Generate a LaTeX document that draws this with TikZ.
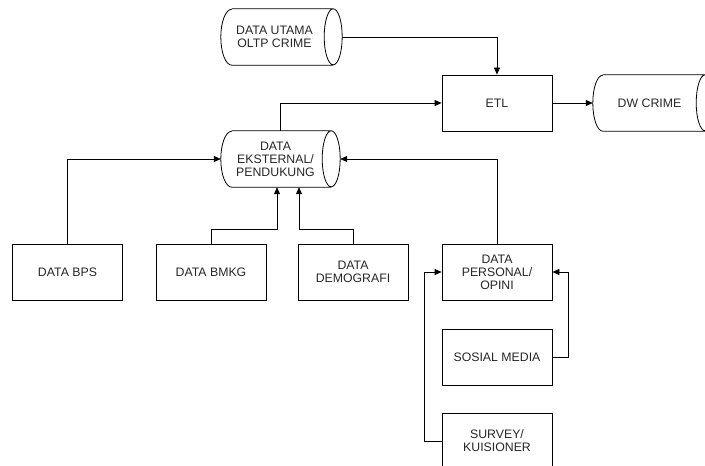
\documentclass[tikz,border=0pt]{standalone}
\usepackage{fontspec}
\setmainfont{Liberation Sans}
\usetikzlibrary{arrows.meta,calc}
\newcommand\drawcyl[2]{%
 \draw[shapeline] ($(#1.north west)+(#2,0)$) -- ($(#1.north east)+(-9,0)$)
   arc[start angle=90,end angle=-270,x radius=9,y radius=28]
   ($(#1.south east)+(-9,0)$) -- ($(#1.south west)+(#2,0)$)
   arc[start angle=270,end angle=90,x radius=#2,y radius=28];}
\tikzset{
 txt/.style={font=\fontsize{12.3}{13}\selectfont, align=center, text=black!85},
 box/.style={draw, line width=0.8pt, minimum width=110pt, minimum height=56pt, inner sep=0pt, txt},
 cyl/.style={minimum height=56pt, inner sep=0pt},
 lbl/.style={txt},
 shapeline/.style={line width=0.8pt},
 conn/.style={line width=0.8pt, -{Triangle[length=7pt,width=6pt]}}
}
\begin{document}
\begin{tikzpicture}[x=1pt,y=1pt]
\useasboundingbox (0,0) rectangle (705,466);
\clip (0,0) rectangle (705,466);
\node[cyl, minimum width=121pt, label={[lbl,xshift=-7pt]center:DATA UTAMA\\OLTP CRIME}] (oltp) at (281.5,429) {};
\node[box] (etl) at (497,363) {ETL};
\node[cyl, minimum width=121pt, label={[lbl,xshift=-4pt]center:DW CRIME}] (dw) at (653.5,363) {};
\node[cyl, minimum width=119pt, label={[lbl,xshift=-5pt]center:DATA\\EKSTERNAL/\\PENDUKUNG}] (eks) at (280.5,307) {};
\node[box] (bps) at (67.5,194) {DATA BPS};
\node[box] (bmkg) at (211,194) {DATA BMKG};
\node[box] (demo) at (353,194) {DATA\\DEMOGRAFI};
\node[box] (pers) at (497,194) {DATA\\PERSONAL/\\OPINI};
\node[box] (sos) at (497,109) {SOSIAL MEDIA};
\node[box] (surv) at (497,25) {SURVEY/\\KUISIONER};
\drawcyl{oltp}{11}
\drawcyl{eks}{11}
\drawcyl{dw}{10}
\draw[conn] (oltp.east) -| (etl.north);
\draw[conn] (eks.north) |- (etl.west);
\draw[conn] (etl.east) -- (dw.west);
\draw[conn] (bps.north) |- (eks.west);
\draw[conn] (bmkg.north) -- ++(0,14) -| ([xshift=-3.5pt]eks.south);
\draw[conn] (demo.north) -- ++(0,14) -| ([xshift=18.5pt]eks.south);
\draw[conn] (pers.north) |- (eks.east);
\draw[conn] (sos.east) -- ++(16,0) |- (pers.east);
\draw[conn] (surv.west) -- ++(-17,0) |- (pers.west);
\end{tikzpicture}
\end{document}
